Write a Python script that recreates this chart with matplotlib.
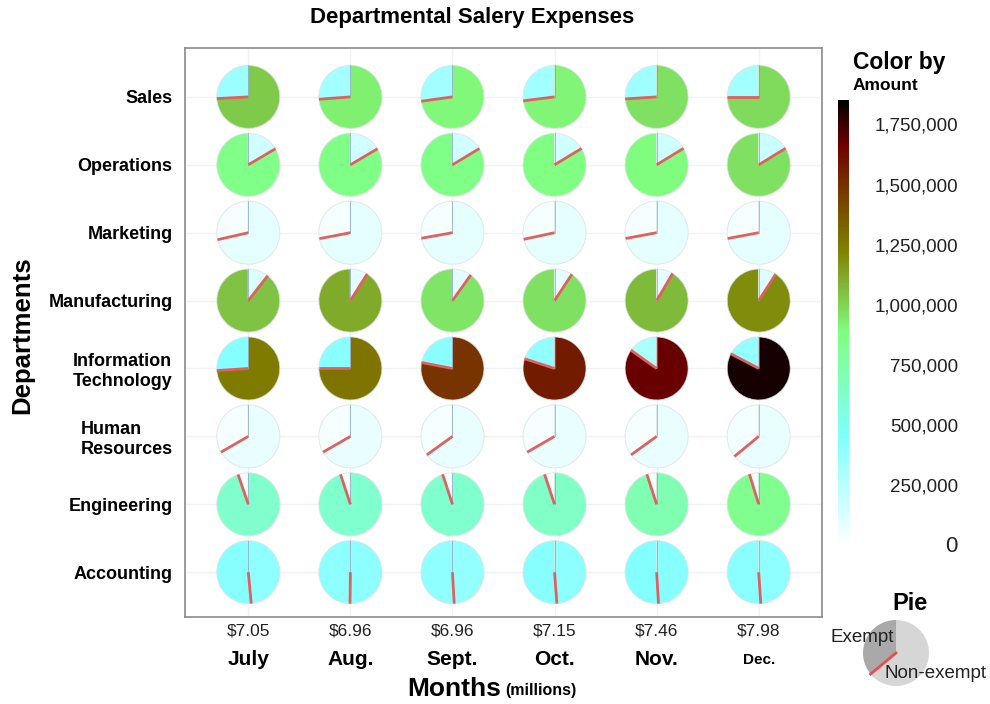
import numpy as np
import matplotlib.pyplot as plt
from matplotlib.colors import LinearSegmentedColormap, Normalize
from matplotlib.cm import ScalarMappable
from matplotlib import transforms

plt.rcParams['font.family'] = ['Liberation Sans', 'DejaVu Sans']

title = "Departmental Salery Expenses"
departments = ["Sales", "Operations", "Marketing", "Manufacturing",
               "Information\nTechnology", "Human\nResources", "Engineering", "Accounting"]
months = ["July", "Aug.", "Sept.", "Oct.", "Nov.", "Dec."]

# salary in thousands of dollars, rows = departments, columns = months
exempt = np.array([
    [360, 330, 340, 340, 345, 330],
    [860, 870, 870, 880, 900, 980],
    [38, 37, 37, 38, 38, 38],
    [1060, 1120, 960, 980, 1080, 1200],
    [440, 425, 420, 395, 300, 380],
    [40, 40, 43, 40, 43, 45],
    [35, 33, 33, 35, 38, 42],
    [430, 410, 400, 432, 450, 422],
])
nonexempt = np.array([
    [1032, 930, 910, 920, 980, 990],
    [170, 172, 170, 172, 175, 190],
    [95, 95, 96, 96, 98, 98],
    [125, 110, 105, 100, 100, 120],
    [1250, 1275, 1490, 1580, 1680, 1820],
    [80, 80, 80, 80, 80, 80],
    [630, 620, 620, 650, 720, 840],
    [405, 413, 386, 412, 433, 405],
])
cbar_ticks = [250, 500, 750, 1000, 1250, 1500, 1750]
legend_split = [36, 64]

totals = (exempt + nonexempt).sum(axis=0) / 1000.0

cmap = LinearSegmentedColormap.from_list("amount", [
    (0.0, "#ffffff"), (0.245, "#80ffff"), (0.48, "#80ff80"),
    (0.665, "#808000"), (0.9, "#700000"), (1.0, "#000000")])
norm = Normalize(0, 1860)

fig = plt.figure(figsize=(9.9, 7.04), dpi=100)
ax = fig.add_axes([185/990, 1-617/704, 637/990, 569/704])
ax.set_xlim(-0.62, 5.62)
ax.set_ylim(-0.66, 7.72)
for s in ax.spines.values():
    s.set_color("#8a8a8a")
    s.set_linewidth(1.2)

# faint grid
for k in range(len(months)):
    ax.axvline(k, color="#f2f2f2", lw=1, zorder=0)
for k in range(len(departments)):
    ax.axhline(k, color="#f2f2f2", lw=1, zorder=0)

pw, ph = 0.63, 0.95
for i, dep in enumerate(departments):
    y = len(departments) - 1 - i
    for j in range(len(months)):
        e, n = exempt[i, j], nonexempt[i, j]
        pax = ax.inset_axes([j - pw/2, y - ph/2, pw, ph], transform=ax.transData)
        pax.pie([e, n], colors=[cmap(norm(e)), cmap(norm(n))], startangle=90,
                counterclock=True,
                wedgeprops=dict(edgecolor=(0.86, 0.89, 0.89, 0.8), linewidth=0.7))
        pax.plot([0, 0], [0, 1], color="#6a8cc0", lw=0.6, alpha=0.6)
        a = np.deg2rad(90 + 360*e/(e+n))
        pax.plot([0, np.cos(a)], [0, np.sin(a)], color="#e06060", lw=2,
                 solid_capstyle="butt")
        pax.set_xlim(-1.02, 1.02)
        pax.set_ylim(-1.02, 1.02)
        pax.axis("off")

ax.set_yticks(range(len(departments)))
ax.set_yticklabels(departments[::-1], fontweight="bold", fontsize=13)
for lab in ax.get_yticklabels():
    lab.set_multialignment("left")
ax.tick_params(axis="y", length=0, pad=9)

ax.set_xticks(range(len(months)))
ax.set_xticklabels([f"${t:.2f}" for t in totals], fontsize=12.5, color="#222222")
ax.tick_params(axis="x", length=0, pad=5)
tr = transforms.blended_transform_factory(ax.transData, ax.transAxes)
for j, m in enumerate(months):
    ax.text(j, -0.075, m, transform=tr, ha="center", va="center", fontweight="bold",
            fontsize=11 if m == "Dec." else 15)

fig.text(472/990, 1-18/704, title, ha="center", va="center", fontsize=16, fontweight="bold")
fig.text(22/990, 1-335/704, "Departments", rotation=90, ha="center", va="center",
         fontsize=18.5, fontweight="bold")
fig.text(501/990, 1-689/704, "Months", ha="right", va="center", fontsize=19, fontweight="bold")
fig.text(505/990, 1-691/704, "(millions)", ha="left", va="center", fontsize=11.5, fontweight="bold")

# colorbar
cax = fig.add_axes([838/990, 1-547/704, 11/990, 447/704])
cb = fig.colorbar(ScalarMappable(norm=norm, cmap=cmap), cax=cax)
cb.outline.set_visible(False)
cax.set_yticks([])
ctr = transforms.blended_transform_factory(fig.transFigure, cax.transData)
for v in cbar_ticks:
    cax.text(958/990, v, f"{v*1000:,}", transform=ctr, ha="right", va="center",
             fontsize=13.5, color="#222222")
cax.text(958/990, 0, "0", transform=ctr, ha="right", va="center", fontsize=16, color="#222222")
fig.text(853/990, 1-62/704, "Color by", ha="left", va="center", fontsize=16.5, fontweight="bold")
fig.text(853/990, 1-85/704, "Amount", ha="left", va="center", fontsize=12.5, fontweight="bold")

# pie legend
lax = fig.add_axes([(896-33)/990, 1-(653+33)/704, 66/990, 66/704])
lax.pie(legend_split, colors=["#a9a9a9", "#d6d6d6"], startangle=90, counterclock=True)
a = np.deg2rad(90 + 360*legend_split[0]/sum(legend_split))
lax.plot([0, np.cos(a)], [0, np.sin(a)], color="#e05050", lw=2)
lax.set_xlim(-1, 1)
lax.set_ylim(-1, 1)
lax.axis("off")
fig.text(910/990, 1-604/704, "Pie", ha="center", va="center", fontsize=17, fontweight="bold")
fig.text(830/990, 1-637/704, "Exempt", ha="left", va="center", fontsize=13.5, color="#222222")
fig.text(885/990, 1-673/704, "Non-exempt", ha="left", va="center", fontsize=13.5, color="#222222")

fig.savefig("out.png", dpi=100)
